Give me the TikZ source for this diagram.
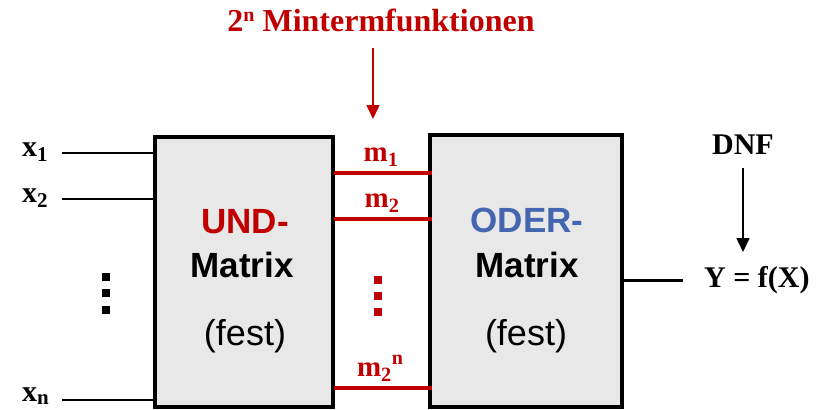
\documentclass[tikz,border=0pt]{standalone}
\usepackage{fontspec}
\setmainfont{Liberation Serif}
\setsansfont{Liberation Sans}
\usetikzlibrary{arrows.meta}
\definecolor{dred}{RGB}{192,0,0}
\definecolor{oblue}{RGB}{68,102,176}
\definecolor{boxgray}{RGB}{232,232,232}
\begin{document}
\begin{tikzpicture}[x=1pt,y=-1pt,
  matbox/.style={draw=black,line width=3.5pt,fill=boxgray},
  lbl/.style={font=\fontsize{30}{34}\selectfont\bfseries,inner sep=0pt},
  mlbl/.style={font=\fontsize{29}{32}\selectfont\bfseries,text=dred,inner sep=0pt},
  boxtxt/.style={font=\fontsize{35}{40}\selectfont\sffamily\bfseries,inner sep=0pt},
  festtxt/.style={font=\fontsize{36}{40}\selectfont\sffamily,inner sep=0pt},
  wire/.style={line width=1.4pt},
  rwire/.style={line width=3.2pt,draw=dred},
  dot/.style={fill=black,minimum size=7.5pt,inner sep=0pt,draw=none,rectangle},
  rdot/.style={fill=dred,minimum size=7.5pt,inner sep=0pt,draw=none,rectangle}]
\useasboundingbox (0,0) rectangle (823,410);
% boxes
\node[matbox,minimum width=178pt,minimum height=270pt,inner sep=0pt] (und) at (244,272) {};
\node[matbox,minimum width=192pt,minimum height=272pt,inner sep=0pt] (oder) at (526,271) {};
% box texts
\node[boxtxt,text=dred] (undt) at (245,222) {UND-};
\node[boxtxt] (undm) at (242,265) {Matrix};
\node[festtxt] (undf) at (245,336) {(fest)};
\node[boxtxt,text=oblue] (odert) at (527,220) {ODER-};
\node[boxtxt] (oderm) at (527,265) {Matrix};
\node[festtxt] (oderf) at (526,336) {(fest)};
% inputs
\node[lbl,anchor=west] (x1) at (22,152) {x\textsubscript{1}};
\node[lbl,anchor=west] (x2) at (22,198) {x\textsubscript{2}};
\node[lbl,anchor=west] (xn) at (22,396) {x\textsubscript{n}};
\coordinate (x1e) at (155,153);
\coordinate (x2e) at (155,199);
\coordinate (xne) at (155,400);
\coordinate (x1s) at (62,153);
\coordinate (x2s) at (62,199);
\coordinate (xns) at (62,400);
\draw[wire] (x1s) -- (x1e);
\draw[wire] (x2s) -- (x2e);
\draw[wire] (xns) -- (xne);
\node[dot] (d1) at (106,277) {};
\node[dot] (d2) at (106,293) {};
\node[dot] (d3) at (106,310) {};
% minterm wires
\coordinate (m1a) at (334,173); \coordinate (m1b) at (432,173);
\coordinate (m2a) at (334,219); \coordinate (m2b) at (432,219);
\coordinate (mna) at (334,388); \coordinate (mnb) at (432,388);
\draw[rwire] (m1a) -- (m1b);
\draw[rwire] (m2a) -- (m2b);
\draw[rwire] (mna) -- (mnb);
\node[mlbl] (m1) at (381,157) {m\textsubscript{1}};
\node[mlbl] (m2) at (382,203) {m\textsubscript{2}};
\node[mlbl] (mn) at (380,368) {m\textsubscript{2}\raisebox{12pt}{\fontsize{20}{20}\selectfont n}};
\node[rdot] (r1) at (378,280) {};
\node[rdot] (r2) at (378,296) {};
\node[rdot] (r3) at (378,312) {};
% title
\node[font=\fontsize{32}{36}\selectfont\bfseries,inner sep=0pt,text=dred] (title) at (381,20) {2\raisebox{10pt}{\fontsize{20}{20}\selectfont n} Mintermfunktionen};
\coordinate (tarr) at (373,48);
\coordinate (tarrend) at (373,119);
\draw[line width=1.6pt,draw=dred,-{Triangle[length=14pt,width=13pt]}] (tarr) -- (tarrend);
% output
\coordinate (oute) at (683,280);
\coordinate (outs) at (622,280);
\draw[line width=3pt] (outs) -- (oute);
\node[lbl,anchor=west] (y) at (704,280) {Y = f(X)};
\node[lbl] (dnf) at (743,145) {DNF};
\coordinate (dnfs) at (743,168);
\coordinate (dnfe) at (743,252);
\draw[line width=1.6pt,-{Triangle[length=14pt,width=13pt]}] (dnfs) -- (dnfe);
\end{tikzpicture}
\end{document}
